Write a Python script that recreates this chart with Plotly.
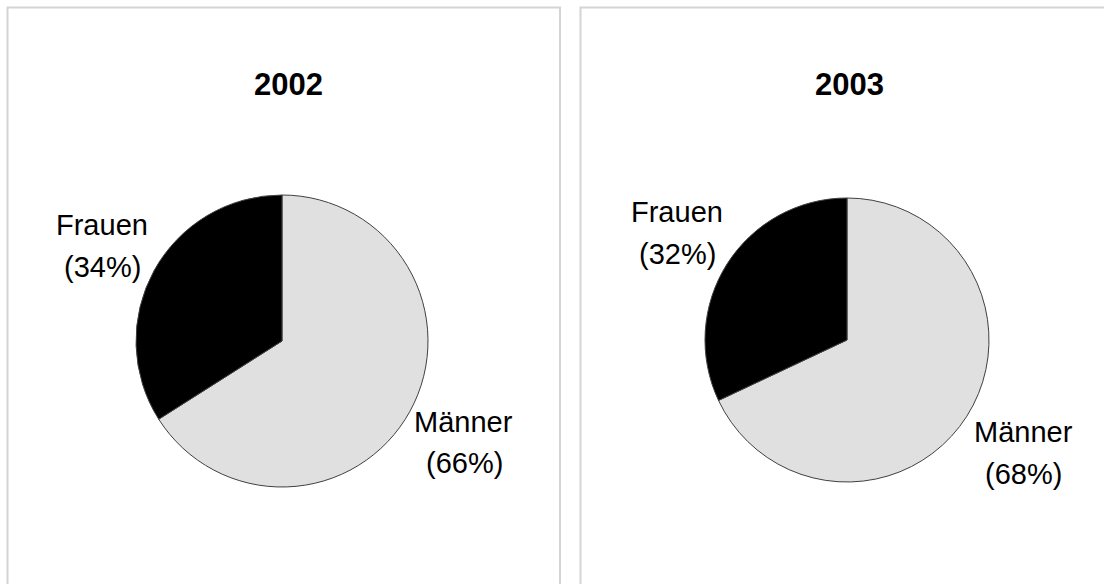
import plotly.graph_objects as go

W, H = 1104, 584

# ---- data ----
years = ["2002", "2003"]
labels = ["Männer", "Frauen"]
values_2002 = [66, 34]
values_2003 = [68, 32]
colors = ["#e0e0e0", "#000000"]

series = [values_2002, values_2003]

# ---- layout helpers (pixel -> paper) ----
def px(x):
    return x / W

def py(y):
    return 1 - y / H

# pie centres / radii (pixels)
pie_geom = [(282, 341, 146), (847, 340, 142)]
title_pos = [(288, 85), (849, 85)]
# label positions: (name_xy, pct_xy) per label per chart
label_pos = [
    {"Männer": ((463, 422), (464, 463)), "Frauen": ((102, 225), (102, 267))},
    {"Männer": ((1023, 432), (1023, 474)), "Frauen": ((677, 212), (677, 254))},
]

fig = go.Figure()
annotations = []

for i, (yr, vals) in enumerate(zip(years, series)):
    cx, cy, r = pie_geom[i]
    fig.add_trace(go.Pie(
        labels=labels,
        values=vals,
        sort=False,
        direction="clockwise",
        rotation=0,
        marker=dict(colors=colors, line=dict(color="#404040", width=1)),
        textinfo="none",
        hoverinfo="label+percent",
        showlegend=False,
        domain=dict(x=[px(cx - r), px(cx + r)], y=[py(cy + r), py(cy - r)]),
    ))
    tx, ty = title_pos[i]
    annotations.append(dict(
        text=f"<b>{yr}</b>", x=px(tx), y=py(ty), xref="paper", yref="paper",
        xanchor="center", yanchor="middle", showarrow=False,
        font=dict(family="Liberation Sans, Arial, sans-serif", size=31, color="#000000"),
    ))
    total = sum(vals)
    for lab, v in zip(labels, vals):
        (nx, ny), (qx, qy) = label_pos[i][lab]
        pct = round(100 * v / total)
        for txt, (ax, ay) in ((lab, (nx, ny)), (f"({pct}%)", (qx, qy))):
            annotations.append(dict(
                text=txt, x=px(ax), y=py(ay), xref="paper", yref="paper",
                xanchor="center", yanchor="middle", showarrow=False,
                font=dict(family="Liberation Sans, Arial, sans-serif", size=29, color="#000000"),
            ))

shapes = [
    dict(type="rect", xref="paper", yref="paper",
         x0=px(7.5), x1=px(560), y0=py(620), y1=py(7.5),
         line=dict(color="#d4d4d4", width=2), fillcolor="rgba(0,0,0,0)", layer="below"),
    dict(type="rect", xref="paper", yref="paper",
         x0=px(580.5), x1=px(1140), y0=py(620), y1=py(7.5),
         line=dict(color="#d4d4d4", width=2), fillcolor="rgba(0,0,0,0)", layer="below"),
]

fig.update_layout(
    width=W, height=H,
    margin=dict(l=0, r=0, t=0, b=0),
    paper_bgcolor="#ffffff",
    plot_bgcolor="#ffffff",
    annotations=annotations,
    shapes=shapes,
)

fig.write_html(
    "out.html",
    config={"displayModeBar": False},
    post_script="document.body.style.margin='0';document.body.style.overflow='hidden';",
)
